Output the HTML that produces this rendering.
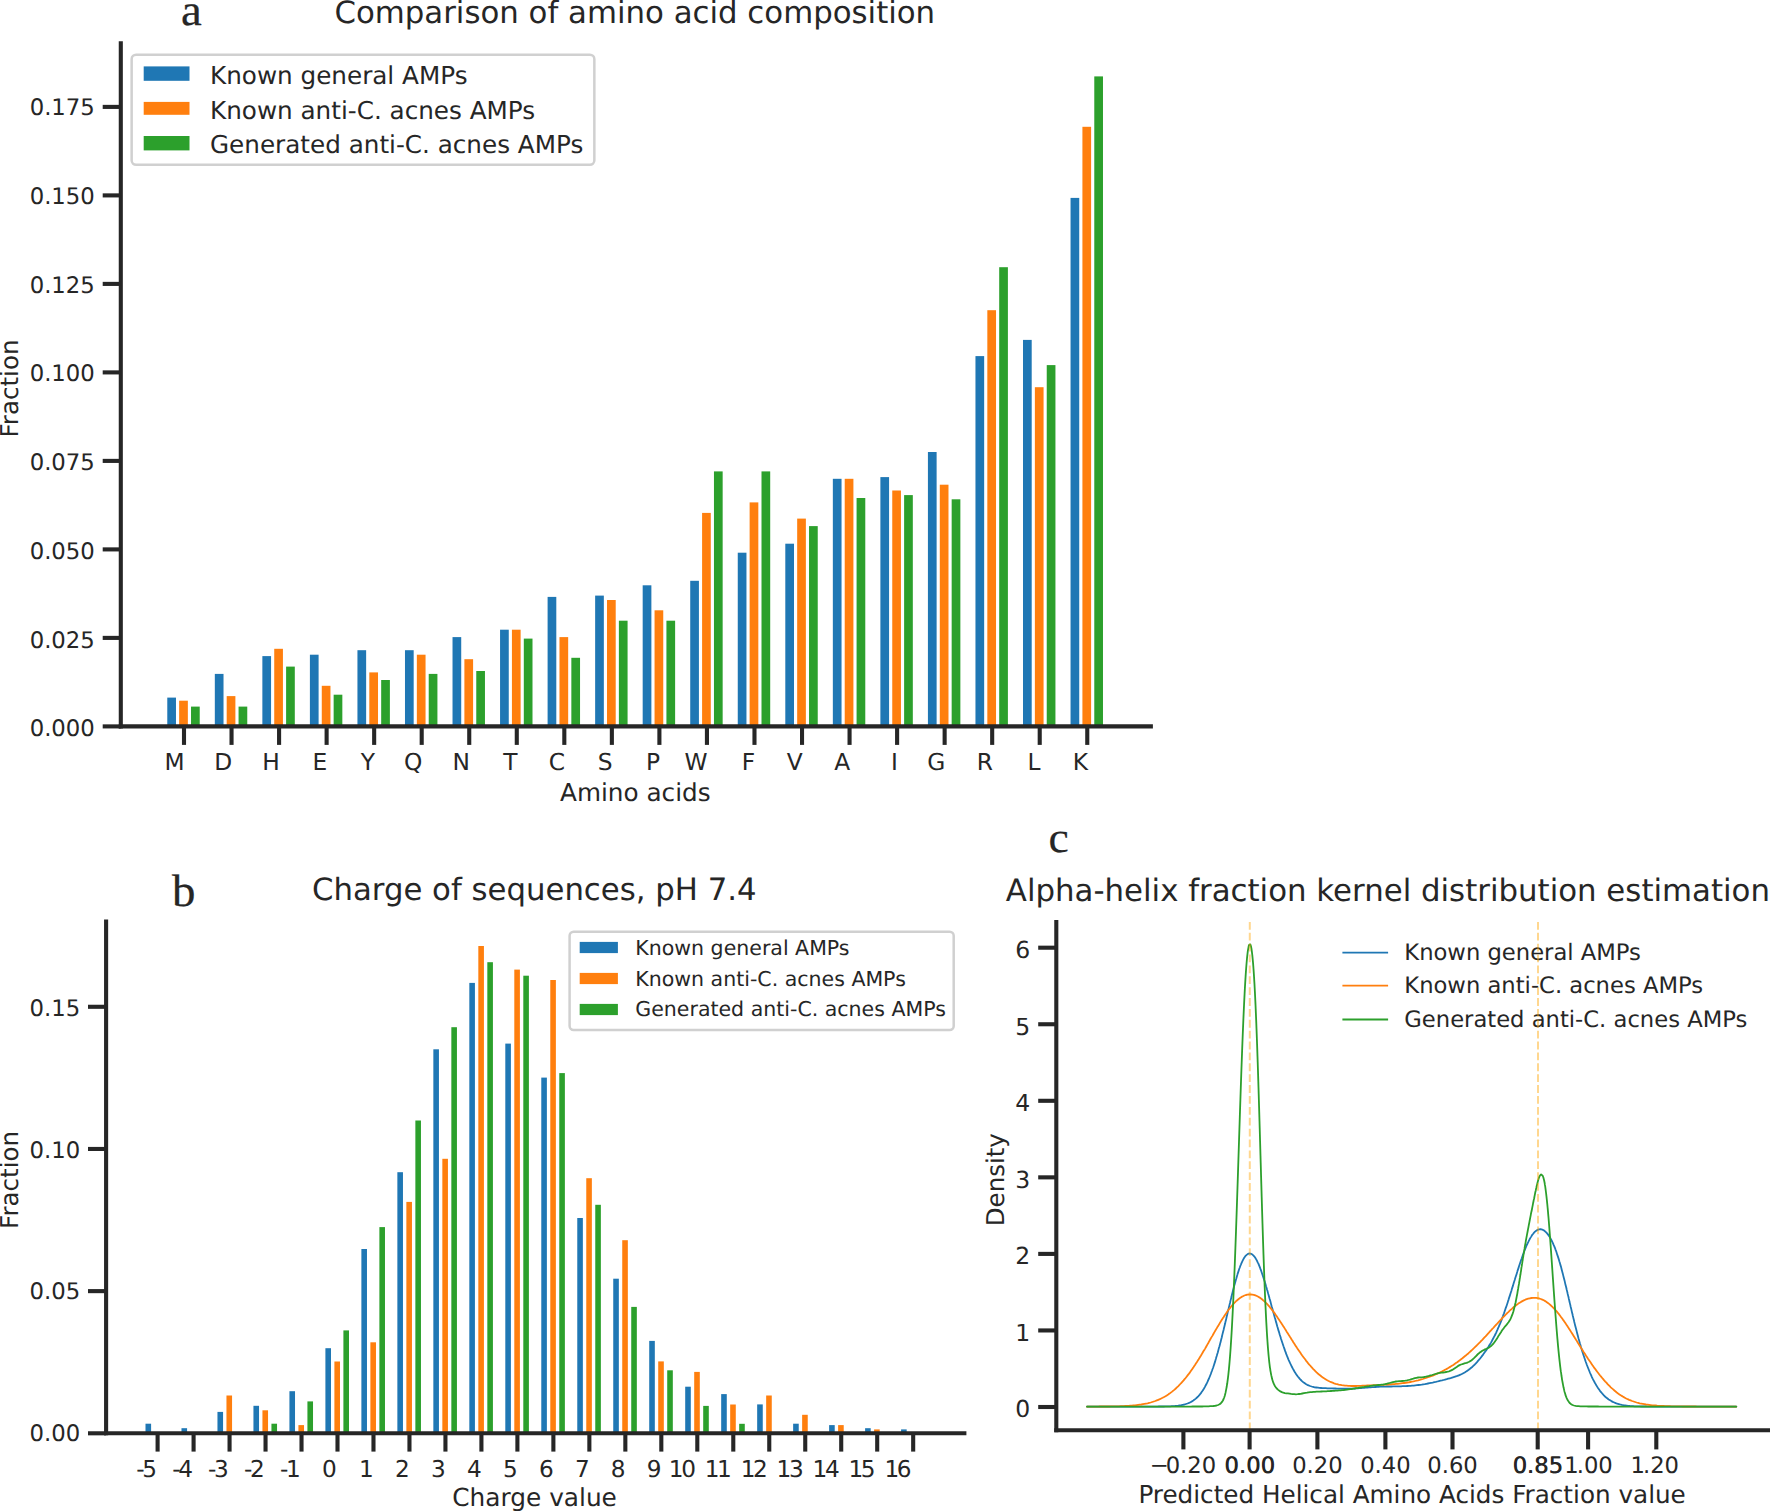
<!DOCTYPE html>
<html lang="en">
<head>
<meta charset="utf-8">
<title>AMP composition, charge and alpha-helix fraction</title>
<style>
html,body{margin:0;padding:0;background:#fff;overflow:hidden;}
svg{display:block;}
text{fill:#262626;}
</style>
</head>
<body>
<svg width="1770" height="1511" viewBox="0 0 1770 1511" font-family="'DejaVu Sans','Liberation Sans',sans-serif" text-rendering="geometricPrecision">
<rect width="1770" height="1511" fill="#fff"/>
<g id="chart-a">
<rect x="167.28" y="697.6" width="8.7" height="28.8" fill="#1f77b4"/>
<rect x="179.15" y="700.7" width="8.7" height="25.7" fill="#ff7f0e"/>
<rect x="191.02" y="706.6" width="8.7" height="19.8" fill="#2ca02c"/>
<rect x="214.82" y="673.9" width="8.7" height="52.5" fill="#1f77b4"/>
<rect x="226.69" y="696.1" width="8.7" height="30.3" fill="#ff7f0e"/>
<rect x="238.56" y="706.6" width="8.7" height="19.8" fill="#2ca02c"/>
<rect x="262.36" y="656.1" width="8.7" height="70.3" fill="#1f77b4"/>
<rect x="274.23" y="648.8" width="8.7" height="77.6" fill="#ff7f0e"/>
<rect x="286.1" y="666.6" width="8.7" height="59.8" fill="#2ca02c"/>
<rect x="309.9" y="654.7" width="8.7" height="71.7" fill="#1f77b4"/>
<rect x="321.77" y="685.8" width="8.7" height="40.6" fill="#ff7f0e"/>
<rect x="333.64" y="694.7" width="8.7" height="31.7" fill="#2ca02c"/>
<rect x="357.44" y="650.2" width="8.7" height="76.2" fill="#1f77b4"/>
<rect x="369.31" y="672.4" width="8.7" height="54" fill="#ff7f0e"/>
<rect x="381.18" y="680" width="8.7" height="46.4" fill="#2ca02c"/>
<rect x="404.98" y="650.2" width="8.7" height="76.2" fill="#1f77b4"/>
<rect x="416.85" y="654.7" width="8.7" height="71.7" fill="#ff7f0e"/>
<rect x="428.72" y="673.9" width="8.7" height="52.5" fill="#2ca02c"/>
<rect x="452.52" y="637.1" width="8.7" height="89.3" fill="#1f77b4"/>
<rect x="464.39" y="659.2" width="8.7" height="67.2" fill="#ff7f0e"/>
<rect x="476.26" y="671" width="8.7" height="55.4" fill="#2ca02c"/>
<rect x="500.06" y="629.7" width="8.7" height="96.7" fill="#1f77b4"/>
<rect x="511.93" y="629.7" width="8.7" height="96.7" fill="#ff7f0e"/>
<rect x="523.8" y="638.6" width="8.7" height="87.8" fill="#2ca02c"/>
<rect x="547.6" y="596.9" width="8.7" height="129.5" fill="#1f77b4"/>
<rect x="559.47" y="637.1" width="8.7" height="89.3" fill="#ff7f0e"/>
<rect x="571.34" y="657.8" width="8.7" height="68.6" fill="#2ca02c"/>
<rect x="595.14" y="595.6" width="8.7" height="130.8" fill="#1f77b4"/>
<rect x="607.01" y="600" width="8.7" height="126.4" fill="#ff7f0e"/>
<rect x="618.88" y="620.7" width="8.7" height="105.7" fill="#2ca02c"/>
<rect x="642.68" y="585.3" width="8.7" height="141.1" fill="#1f77b4"/>
<rect x="654.55" y="610.3" width="8.7" height="116.1" fill="#ff7f0e"/>
<rect x="666.42" y="620.7" width="8.7" height="105.7" fill="#2ca02c"/>
<rect x="690.22" y="580.8" width="8.7" height="145.6" fill="#1f77b4"/>
<rect x="702.09" y="512.9" width="8.7" height="213.5" fill="#ff7f0e"/>
<rect x="713.96" y="471.4" width="8.7" height="255" fill="#2ca02c"/>
<rect x="737.76" y="552.7" width="8.7" height="173.7" fill="#1f77b4"/>
<rect x="749.63" y="502.4" width="8.7" height="224" fill="#ff7f0e"/>
<rect x="761.5" y="471.4" width="8.7" height="255" fill="#2ca02c"/>
<rect x="785.3" y="543.7" width="8.7" height="182.7" fill="#1f77b4"/>
<rect x="797.17" y="518.6" width="8.7" height="207.8" fill="#ff7f0e"/>
<rect x="809.04" y="526.1" width="8.7" height="200.3" fill="#2ca02c"/>
<rect x="832.84" y="478.8" width="8.7" height="247.6" fill="#1f77b4"/>
<rect x="844.71" y="478.8" width="8.7" height="247.6" fill="#ff7f0e"/>
<rect x="856.58" y="498" width="8.7" height="228.4" fill="#2ca02c"/>
<rect x="880.38" y="477.1" width="8.7" height="249.3" fill="#1f77b4"/>
<rect x="892.25" y="490.5" width="8.7" height="235.9" fill="#ff7f0e"/>
<rect x="904.12" y="495.1" width="8.7" height="231.3" fill="#2ca02c"/>
<rect x="927.92" y="452" width="8.7" height="274.4" fill="#1f77b4"/>
<rect x="939.79" y="484.7" width="8.7" height="241.7" fill="#ff7f0e"/>
<rect x="951.66" y="499.3" width="8.7" height="227.1" fill="#2ca02c"/>
<rect x="975.46" y="356.1" width="8.7" height="370.3" fill="#1f77b4"/>
<rect x="987.33" y="310.2" width="8.7" height="416.2" fill="#ff7f0e"/>
<rect x="999.2" y="267.2" width="8.7" height="459.2" fill="#2ca02c"/>
<rect x="1023" y="339.9" width="8.7" height="386.5" fill="#1f77b4"/>
<rect x="1034.87" y="387.2" width="8.7" height="339.2" fill="#ff7f0e"/>
<rect x="1046.74" y="365.1" width="8.7" height="361.3" fill="#2ca02c"/>
<rect x="1070.54" y="197.9" width="8.7" height="528.5" fill="#1f77b4"/>
<rect x="1082.41" y="126.8" width="8.7" height="599.6" fill="#ff7f0e"/>
<rect x="1094.28" y="76.4" width="8.7" height="650" fill="#2ca02c"/>
<line x1="120.8" y1="41.2" x2="120.8" y2="728.45" stroke="#262626" stroke-width="4.1" />
<line x1="118.75" y1="726.4" x2="1152.9" y2="726.4" stroke="#262626" stroke-width="4.1" />
<line x1="102.7" y1="726.4" x2="120.8" y2="726.4" stroke="#262626" stroke-width="4.1" />
<text x="94.8" y="736.2" font-size="22.75" text-anchor="end" >0.000</text>
<line x1="102.7" y1="637.9" x2="120.8" y2="637.9" stroke="#262626" stroke-width="4.1" />
<text x="94.8" y="647.51" font-size="22.75" text-anchor="end" >0.025</text>
<line x1="102.7" y1="549.4" x2="120.8" y2="549.4" stroke="#262626" stroke-width="4.1" />
<text x="94.8" y="558.82" font-size="22.75" text-anchor="end" >0.050</text>
<line x1="102.7" y1="460.9" x2="120.8" y2="460.9" stroke="#262626" stroke-width="4.1" />
<text x="94.8" y="470.13" font-size="22.75" text-anchor="end" >0.075</text>
<line x1="102.7" y1="372.4" x2="120.8" y2="372.4" stroke="#262626" stroke-width="4.1" />
<text x="94.8" y="381.44" font-size="22.75" text-anchor="end" >0.100</text>
<line x1="102.7" y1="283.9" x2="120.8" y2="283.9" stroke="#262626" stroke-width="4.1" />
<text x="94.8" y="292.75" font-size="22.75" text-anchor="end" >0.125</text>
<line x1="102.7" y1="195.4" x2="120.8" y2="195.4" stroke="#262626" stroke-width="4.1" />
<text x="94.8" y="204.06" font-size="22.75" text-anchor="end" >0.150</text>
<line x1="102.7" y1="106.9" x2="120.8" y2="106.9" stroke="#262626" stroke-width="4.1" />
<text x="94.8" y="115.37" font-size="22.75" text-anchor="end" >0.175</text>
<line x1="184" y1="726.4" x2="184" y2="744.9" stroke="#262626" stroke-width="4.1" />
<text x="184.7" y="769.6" font-size="23.3" text-anchor="end" >M</text>
<line x1="231.54" y1="726.4" x2="231.54" y2="744.9" stroke="#262626" stroke-width="4.1" />
<text x="232.24" y="769.6" font-size="23.3" text-anchor="end" >D</text>
<line x1="279.08" y1="726.4" x2="279.08" y2="744.9" stroke="#262626" stroke-width="4.1" />
<text x="279.78" y="769.6" font-size="23.3" text-anchor="end" >H</text>
<line x1="326.62" y1="726.4" x2="326.62" y2="744.9" stroke="#262626" stroke-width="4.1" />
<text x="327.32" y="769.6" font-size="23.3" text-anchor="end" >E</text>
<line x1="374.16" y1="726.4" x2="374.16" y2="744.9" stroke="#262626" stroke-width="4.1" />
<text x="374.86" y="769.6" font-size="23.3" text-anchor="end" >Y</text>
<line x1="421.7" y1="726.4" x2="421.7" y2="744.9" stroke="#262626" stroke-width="4.1" />
<text x="422.4" y="769.6" font-size="23.3" text-anchor="end" >Q</text>
<line x1="469.24" y1="726.4" x2="469.24" y2="744.9" stroke="#262626" stroke-width="4.1" />
<text x="469.94" y="769.6" font-size="23.3" text-anchor="end" >N</text>
<line x1="516.78" y1="726.4" x2="516.78" y2="744.9" stroke="#262626" stroke-width="4.1" />
<text x="517.48" y="769.6" font-size="23.3" text-anchor="end" >T</text>
<line x1="564.32" y1="726.4" x2="564.32" y2="744.9" stroke="#262626" stroke-width="4.1" />
<text x="565.02" y="769.6" font-size="23.3" text-anchor="end" >C</text>
<line x1="611.86" y1="726.4" x2="611.86" y2="744.9" stroke="#262626" stroke-width="4.1" />
<text x="612.56" y="769.6" font-size="23.3" text-anchor="end" >S</text>
<line x1="659.4" y1="726.4" x2="659.4" y2="744.9" stroke="#262626" stroke-width="4.1" />
<text x="660.1" y="769.6" font-size="23.3" text-anchor="end" >P</text>
<line x1="706.94" y1="726.4" x2="706.94" y2="744.9" stroke="#262626" stroke-width="4.1" />
<text x="707.64" y="769.6" font-size="23.3" text-anchor="end" >W</text>
<line x1="754.48" y1="726.4" x2="754.48" y2="744.9" stroke="#262626" stroke-width="4.1" />
<text x="755.18" y="769.6" font-size="23.3" text-anchor="end" >F</text>
<line x1="802.02" y1="726.4" x2="802.02" y2="744.9" stroke="#262626" stroke-width="4.1" />
<text x="802.72" y="769.6" font-size="23.3" text-anchor="end" >V</text>
<line x1="849.56" y1="726.4" x2="849.56" y2="744.9" stroke="#262626" stroke-width="4.1" />
<text x="850.26" y="769.6" font-size="23.3" text-anchor="end" >A</text>
<line x1="897.1" y1="726.4" x2="897.1" y2="744.9" stroke="#262626" stroke-width="4.1" />
<text x="897.8" y="769.6" font-size="23.3" text-anchor="end" >I</text>
<line x1="944.64" y1="726.4" x2="944.64" y2="744.9" stroke="#262626" stroke-width="4.1" />
<text x="945.34" y="769.6" font-size="23.3" text-anchor="end" >G</text>
<line x1="992.18" y1="726.4" x2="992.18" y2="744.9" stroke="#262626" stroke-width="4.1" />
<text x="992.88" y="769.6" font-size="23.3" text-anchor="end" >R</text>
<line x1="1039.72" y1="726.4" x2="1039.72" y2="744.9" stroke="#262626" stroke-width="4.1" />
<text x="1040.42" y="769.6" font-size="23.3" text-anchor="end" >L</text>
<line x1="1087.26" y1="726.4" x2="1087.26" y2="744.9" stroke="#262626" stroke-width="4.1" />
<text x="1087.96" y="769.6" font-size="23.3" text-anchor="end" >K</text>
<text x="635.3" y="801" font-size="24.7" text-anchor="middle" >Amino acids</text>
<text x="18.1" y="388.5" font-size="24.6" text-anchor="middle" transform="rotate(-90 18.1 388.5)" >Fraction</text>
<text x="634.8" y="22.9" font-size="30.8" text-anchor="middle" >Comparison of amino acid composition</text>
<text transform="translate(180.9 25) scale(1.06 1)" font-size="44.2" font-family="'Liberation Serif','DejaVu Serif',serif" stroke="#262626" stroke-width="0.25">a</text>
<rect x="131.65" y="54.65" width="462.7" height="110.2" rx="4.5" fill="#fff" fill-opacity="0.8" stroke="#d0d0d0" stroke-width="2.5"/>
<rect x="143.7" y="66.4" width="45.8" height="14.4" fill="#1f77b4"/>
<text x="210" y="83.9" font-size="24.66" >Known general AMPs</text>
<rect x="143.7" y="101.9" width="45.8" height="12.9" fill="#ff7f0e"/>
<text x="210" y="118.7" font-size="24.66" >Known anti-C. acnes AMPs</text>
<rect x="143.7" y="136" width="45.8" height="14.4" fill="#2ca02c"/>
<text x="210" y="153.4" font-size="24.66" >Generated anti-C. acnes AMPs</text>
</g>
<g id="chart-b">
<rect x="145.5" y="1423.7" width="5.6" height="9.6" fill="#1f77b4"/>
<rect x="181.48" y="1428.2" width="5.6" height="5.1" fill="#1f77b4"/>
<rect x="217.46" y="1411.9" width="5.6" height="21.4" fill="#1f77b4"/>
<rect x="226.46" y="1395.5" width="5.6" height="37.8" fill="#ff7f0e"/>
<rect x="253.44" y="1405.8" width="5.6" height="27.5" fill="#1f77b4"/>
<rect x="262.44" y="1410.3" width="5.6" height="23" fill="#ff7f0e"/>
<rect x="271.44" y="1423.7" width="5.6" height="9.6" fill="#2ca02c"/>
<rect x="289.42" y="1391.2" width="5.6" height="42.1" fill="#1f77b4"/>
<rect x="298.42" y="1425.1" width="5.6" height="8.2" fill="#ff7f0e"/>
<rect x="307.42" y="1401.4" width="5.6" height="31.9" fill="#2ca02c"/>
<rect x="325.4" y="1348.2" width="5.6" height="85.1" fill="#1f77b4"/>
<rect x="334.4" y="1361.5" width="5.6" height="71.8" fill="#ff7f0e"/>
<rect x="343.4" y="1330.4" width="5.6" height="102.9" fill="#2ca02c"/>
<rect x="361.38" y="1249" width="5.6" height="184.3" fill="#1f77b4"/>
<rect x="370.38" y="1342.3" width="5.6" height="91" fill="#ff7f0e"/>
<rect x="379.38" y="1227.1" width="5.6" height="206.2" fill="#2ca02c"/>
<rect x="397.36" y="1172.2" width="5.6" height="261.1" fill="#1f77b4"/>
<rect x="406.36" y="1201.9" width="5.6" height="231.4" fill="#ff7f0e"/>
<rect x="415.36" y="1120.5" width="5.6" height="312.8" fill="#2ca02c"/>
<rect x="433.34" y="1049.3" width="5.6" height="384" fill="#1f77b4"/>
<rect x="442.34" y="1158.8" width="5.6" height="274.5" fill="#ff7f0e"/>
<rect x="451.34" y="1027.2" width="5.6" height="406.1" fill="#2ca02c"/>
<rect x="469.32" y="982.9" width="5.6" height="450.4" fill="#1f77b4"/>
<rect x="478.32" y="946" width="5.6" height="487.3" fill="#ff7f0e"/>
<rect x="487.32" y="962.2" width="5.6" height="471.1" fill="#2ca02c"/>
<rect x="505.3" y="1043.6" width="5.6" height="389.7" fill="#1f77b4"/>
<rect x="514.3" y="969.6" width="5.6" height="463.7" fill="#ff7f0e"/>
<rect x="523.3" y="975.7" width="5.6" height="457.6" fill="#2ca02c"/>
<rect x="541.28" y="1077.6" width="5.6" height="355.7" fill="#1f77b4"/>
<rect x="550.28" y="980" width="5.6" height="453.3" fill="#ff7f0e"/>
<rect x="559.28" y="1073.1" width="5.6" height="360.2" fill="#2ca02c"/>
<rect x="577.26" y="1218" width="5.6" height="215.3" fill="#1f77b4"/>
<rect x="586.26" y="1178.2" width="5.6" height="255.1" fill="#ff7f0e"/>
<rect x="595.26" y="1204.8" width="5.6" height="228.5" fill="#2ca02c"/>
<rect x="613.24" y="1278.7" width="5.6" height="154.6" fill="#1f77b4"/>
<rect x="622.24" y="1240.2" width="5.6" height="193.1" fill="#ff7f0e"/>
<rect x="631.24" y="1306.9" width="5.6" height="126.4" fill="#2ca02c"/>
<rect x="649.22" y="1340.9" width="5.6" height="92.4" fill="#1f77b4"/>
<rect x="658.22" y="1361.4" width="5.6" height="71.9" fill="#ff7f0e"/>
<rect x="667.22" y="1370.3" width="5.6" height="63" fill="#2ca02c"/>
<rect x="685.2" y="1386.7" width="5.6" height="46.6" fill="#1f77b4"/>
<rect x="694.2" y="1371.9" width="5.6" height="61.4" fill="#ff7f0e"/>
<rect x="703.2" y="1405.9" width="5.6" height="27.4" fill="#2ca02c"/>
<rect x="721.18" y="1394.1" width="5.6" height="39.2" fill="#1f77b4"/>
<rect x="730.18" y="1404.5" width="5.6" height="28.8" fill="#ff7f0e"/>
<rect x="739.18" y="1423.8" width="5.6" height="9.5" fill="#2ca02c"/>
<rect x="757.16" y="1404.4" width="5.6" height="28.9" fill="#1f77b4"/>
<rect x="766.16" y="1395.5" width="5.6" height="37.8" fill="#ff7f0e"/>
<rect x="793.14" y="1423.7" width="5.6" height="9.6" fill="#1f77b4"/>
<rect x="802.14" y="1414.8" width="5.6" height="18.5" fill="#ff7f0e"/>
<rect x="829.12" y="1425.1" width="5.6" height="8.2" fill="#1f77b4"/>
<rect x="838.12" y="1425.1" width="5.6" height="8.2" fill="#ff7f0e"/>
<rect x="865.1" y="1428.2" width="5.6" height="5.1" fill="#1f77b4"/>
<rect x="874.1" y="1429.4" width="5.6" height="3.9" fill="#ff7f0e"/>
<rect x="901.08" y="1429.4" width="5.6" height="3.9" fill="#1f77b4"/>
<line x1="106.1" y1="919.4" x2="106.1" y2="1435.35" stroke="#262626" stroke-width="4.1" />
<line x1="104.05" y1="1433.3" x2="966.4" y2="1433.3" stroke="#262626" stroke-width="4.1" />
<line x1="88" y1="1433.3" x2="106.1" y2="1433.3" stroke="#262626" stroke-width="4.1" />
<text x="80.2" y="1441.2" font-size="22.75" text-anchor="end" >0.00</text>
<line x1="88" y1="1291.13" x2="106.1" y2="1291.13" stroke="#262626" stroke-width="4.1" />
<text x="80.2" y="1298.63" font-size="22.75" text-anchor="end" >0.05</text>
<line x1="88" y1="1148.96" x2="106.1" y2="1148.96" stroke="#262626" stroke-width="4.1" />
<text x="80.2" y="1158.16" font-size="22.75" text-anchor="end" >0.10</text>
<line x1="88" y1="1006.79" x2="106.1" y2="1006.79" stroke="#262626" stroke-width="4.1" />
<text x="80.2" y="1016.29" font-size="22.75" text-anchor="end" >0.15</text>
<line x1="157.6" y1="1433.3" x2="157.6" y2="1451.6" stroke="#262626" stroke-width="4.1" />
<text x="157" y="1476.6" font-size="23.2" text-anchor="end" >-<tspan dx="-2.4">5</tspan></text>
<line x1="193.58" y1="1433.3" x2="193.58" y2="1451.6" stroke="#262626" stroke-width="4.1" />
<text x="192.93" y="1476.6" font-size="23.2" text-anchor="end" >-<tspan dx="-2.4">4</tspan></text>
<line x1="229.56" y1="1433.3" x2="229.56" y2="1451.6" stroke="#262626" stroke-width="4.1" />
<text x="228.86" y="1476.6" font-size="23.2" text-anchor="end" >-<tspan dx="-2.4">3</tspan></text>
<line x1="265.54" y1="1433.3" x2="265.54" y2="1451.6" stroke="#262626" stroke-width="4.1" />
<text x="264.79" y="1476.6" font-size="23.2" text-anchor="end" >-<tspan dx="-2.4">2</tspan></text>
<line x1="301.52" y1="1433.3" x2="301.52" y2="1451.6" stroke="#262626" stroke-width="4.1" />
<text x="300.72" y="1476.6" font-size="23.2" text-anchor="end" >-<tspan dx="-2.4">1</tspan></text>
<line x1="337.5" y1="1433.3" x2="337.5" y2="1451.6" stroke="#262626" stroke-width="4.1" />
<text x="336.65" y="1476.6" font-size="23.2" text-anchor="end" >0</text>
<line x1="373.48" y1="1433.3" x2="373.48" y2="1451.6" stroke="#262626" stroke-width="4.1" />
<text x="373.78" y="1476.6" font-size="23.2" text-anchor="end" >1</text>
<line x1="409.46" y1="1433.3" x2="409.46" y2="1451.6" stroke="#262626" stroke-width="4.1" />
<text x="409.76" y="1476.6" font-size="23.2" text-anchor="end" >2</text>
<line x1="445.44" y1="1433.3" x2="445.44" y2="1451.6" stroke="#262626" stroke-width="4.1" />
<text x="445.74" y="1476.6" font-size="23.2" text-anchor="end" >3</text>
<line x1="481.42" y1="1433.3" x2="481.42" y2="1451.6" stroke="#262626" stroke-width="4.1" />
<text x="481.72" y="1476.6" font-size="23.2" text-anchor="end" >4</text>
<line x1="517.4" y1="1433.3" x2="517.4" y2="1451.6" stroke="#262626" stroke-width="4.1" />
<text x="517.7" y="1476.6" font-size="23.2" text-anchor="end" >5</text>
<line x1="553.38" y1="1433.3" x2="553.38" y2="1451.6" stroke="#262626" stroke-width="4.1" />
<text x="553.68" y="1476.6" font-size="23.2" text-anchor="end" >6</text>
<line x1="589.36" y1="1433.3" x2="589.36" y2="1451.6" stroke="#262626" stroke-width="4.1" />
<text x="589.66" y="1476.6" font-size="23.2" text-anchor="end" >7</text>
<line x1="625.34" y1="1433.3" x2="625.34" y2="1451.6" stroke="#262626" stroke-width="4.1" />
<text x="625.64" y="1476.6" font-size="23.2" text-anchor="end" >8</text>
<line x1="661.32" y1="1433.3" x2="661.32" y2="1451.6" stroke="#262626" stroke-width="4.1" />
<text x="661.62" y="1476.6" font-size="23.2" text-anchor="end" >9</text>
<line x1="697.3" y1="1433.3" x2="697.3" y2="1451.6" stroke="#262626" stroke-width="4.1" />
<text x="695.95" y="1476.6" font-size="23.2" text-anchor="end" >1<tspan dx="-2.4">0</tspan></text>
<line x1="733.28" y1="1433.3" x2="733.28" y2="1451.6" stroke="#262626" stroke-width="4.1" />
<text x="731.88" y="1476.6" font-size="23.2" text-anchor="end" >1<tspan dx="-2.4">1</tspan></text>
<line x1="769.26" y1="1433.3" x2="769.26" y2="1451.6" stroke="#262626" stroke-width="4.1" />
<text x="767.81" y="1476.6" font-size="23.2" text-anchor="end" >1<tspan dx="-2.4">2</tspan></text>
<line x1="805.24" y1="1433.3" x2="805.24" y2="1451.6" stroke="#262626" stroke-width="4.1" />
<text x="803.74" y="1476.6" font-size="23.2" text-anchor="end" >1<tspan dx="-2.4">3</tspan></text>
<line x1="841.22" y1="1433.3" x2="841.22" y2="1451.6" stroke="#262626" stroke-width="4.1" />
<text x="839.67" y="1476.6" font-size="23.2" text-anchor="end" >1<tspan dx="-2.4">4</tspan></text>
<line x1="877.2" y1="1433.3" x2="877.2" y2="1451.6" stroke="#262626" stroke-width="4.1" />
<text x="875.6" y="1476.6" font-size="23.2" text-anchor="end" >1<tspan dx="-2.4">5</tspan></text>
<line x1="913.18" y1="1433.3" x2="913.18" y2="1451.6" stroke="#262626" stroke-width="4.1" />
<text x="911.53" y="1476.6" font-size="23.2" text-anchor="end" >1<tspan dx="-2.4">6</tspan></text>
<text x="534.6" y="1505.6" font-size="24.8" text-anchor="middle" >Charge value</text>
<text x="18" y="1179.9" font-size="24.6" text-anchor="middle" transform="rotate(-90 18 1179.9)" >Fraction</text>
<text x="534.3" y="899.7" font-size="30.76" text-anchor="middle" >Charge of sequences, pH 7.4</text>
<text transform="translate(171.9 906) scale(1.03 1)" font-size="45.5" font-family="'Liberation Serif','DejaVu Serif',serif" stroke="#262626" stroke-width="0.25">b</text>
<rect x="569.6" y="931.7" width="384.1" height="98.3" rx="4" fill="#fff" fill-opacity="0.8" stroke="#d0d0d0" stroke-width="2.5"/>
<rect x="579.7" y="941.9" width="38.2" height="11.2" fill="#1f77b4"/>
<text x="635.3" y="954.7" font-size="20.53" >Known general AMPs</text>
<rect x="579.7" y="972.9" width="38.2" height="11.2" fill="#ff7f0e"/>
<text x="635.3" y="985.6" font-size="20.53" >Known anti-C. acnes AMPs</text>
<rect x="579.7" y="1003.9" width="38.2" height="11.2" fill="#2ca02c"/>
<text x="635.3" y="1016.1" font-size="20.53" >Generated anti-C. acnes AMPs</text>
</g>
<g id="chart-c">
<path d="M1087.0 1406.6L1088.6 1406.6L1090.2 1406.6L1091.8 1406.6L1093.4 1406.6L1095.0 1406.6L1096.6 1406.6L1098.2 1406.6L1099.8 1406.6L1101.4 1406.6L1103.0 1406.6L1104.6 1406.6L1106.2 1406.6L1107.8 1406.6L1109.4 1406.6L1111.0 1406.6L1112.6 1406.6L1114.2 1406.6L1115.8 1406.6L1117.4 1406.6L1119.0 1406.6L1120.6 1406.6L1122.2 1406.6L1123.8 1406.6L1125.4 1406.6L1127.0 1406.6L1128.6 1406.6L1130.2 1406.6L1131.8 1406.6L1133.4 1406.6L1135.0 1406.6L1136.6 1406.6L1138.2 1406.6L1139.8 1406.6L1141.4 1406.6L1143.0 1406.6L1144.6 1406.6L1146.2 1406.6L1147.8 1406.6L1149.4 1406.6L1151.0 1406.6L1152.6 1406.6L1154.2 1406.6L1155.8 1406.6L1157.4 1406.6L1159.0 1406.5L1160.6 1406.5L1162.2 1406.5L1163.8 1406.5L1165.4 1406.4L1167.0 1406.4L1168.6 1406.4L1170.2 1406.3L1171.8 1406.2L1173.4 1406.1L1175.0 1406.0L1176.6 1405.8L1178.2 1405.7L1179.8 1405.4L1181.3 1405.2L1182.9 1404.8L1184.5 1404.5L1186.0 1404.0L1187.5 1403.5L1189.0 1402.9L1190.5 1402.2L1191.9 1401.4L1193.3 1400.5L1194.6 1399.6L1195.8 1398.6L1197.0 1397.5L1198.2 1396.3L1199.3 1395.1L1200.3 1393.9L1201.3 1392.6L1202.2 1391.3L1203.1 1389.9L1204.0 1388.5L1204.8 1387.1L1205.5 1385.7L1206.3 1384.3L1207.0 1382.9L1207.7 1381.4L1208.3 1379.9L1209.0 1378.5L1209.6 1377.0L1210.2 1375.5L1210.8 1374.0L1211.3 1372.5L1211.9 1371.0L1212.4 1369.5L1213.0 1368.0L1213.5 1366.5L1214.0 1364.9L1214.5 1363.4L1215.0 1361.9L1215.4 1360.4L1215.9 1358.8L1216.3 1357.3L1216.8 1355.8L1217.2 1354.2L1217.7 1352.7L1218.1 1351.2L1218.5 1349.6L1218.9 1348.1L1219.4 1346.5L1219.8 1345.0L1220.2 1343.4L1220.6 1341.9L1221.0 1340.3L1221.4 1338.8L1221.8 1337.2L1222.1 1335.7L1222.5 1334.1L1222.9 1332.6L1223.3 1331.0L1223.7 1329.5L1224.0 1327.9L1224.4 1326.4L1224.8 1324.8L1225.2 1323.3L1225.5 1321.7L1225.9 1320.2L1226.3 1318.6L1226.6 1317.0L1227.0 1315.5L1227.4 1313.9L1227.7 1312.4L1228.1 1310.8L1228.5 1309.3L1228.8 1307.7L1229.2 1306.1L1229.6 1304.6L1230.0 1303.0L1230.3 1301.5L1230.7 1299.9L1231.1 1298.4L1231.5 1296.8L1231.8 1295.2L1232.2 1293.7L1232.6 1292.1L1233.0 1290.6L1233.4 1289.0L1233.8 1287.5L1234.2 1285.9L1234.6 1284.4L1235.1 1282.8L1235.5 1281.3L1235.9 1279.7L1236.4 1278.2L1236.8 1276.7L1237.3 1275.1L1237.7 1273.6L1238.2 1272.1L1238.7 1270.6L1239.2 1269.0L1239.8 1267.5L1240.3 1266.0L1240.9 1264.6L1241.5 1263.1L1242.2 1261.6L1242.9 1260.2L1243.6 1258.8L1244.4 1257.5L1245.3 1256.2L1246.4 1255.1L1247.6 1254.1L1249.0 1253.5L1250.5 1253.6L1252.1 1254.3L1253.3 1255.4L1254.4 1256.6L1255.4 1258.0L1256.2 1259.4L1257.0 1260.8L1257.7 1262.3L1258.4 1263.7L1259.0 1265.2L1259.6 1266.7L1260.2 1268.2L1260.7 1269.7L1261.3 1271.2L1261.8 1272.7L1262.3 1274.2L1262.8 1275.7L1263.3 1277.2L1263.8 1278.8L1264.3 1280.3L1264.8 1281.8L1265.2 1283.4L1265.7 1284.9L1266.1 1286.4L1266.6 1288.0L1267.0 1289.5L1267.5 1291.0L1267.9 1292.6L1268.3 1294.1L1268.8 1295.7L1269.2 1297.2L1269.6 1298.7L1270.1 1300.3L1270.5 1301.8L1270.9 1303.4L1271.3 1304.9L1271.7 1306.4L1272.2 1308.0L1272.6 1309.5L1273.0 1311.1L1273.4 1312.6L1273.9 1314.2L1274.3 1315.7L1274.7 1317.2L1275.2 1318.8L1275.6 1320.3L1276.0 1321.9L1276.5 1323.4L1276.9 1324.9L1277.3 1326.5L1277.8 1328.0L1278.2 1329.6L1278.7 1331.1L1279.2 1332.6L1279.6 1334.2L1280.1 1335.7L1280.6 1337.2L1281.0 1338.7L1281.5 1340.3L1282.0 1341.8L1282.5 1343.3L1283.0 1344.8L1283.5 1346.3L1284.1 1347.9L1284.6 1349.4L1285.1 1350.9L1285.7 1352.4L1286.2 1353.9L1286.8 1355.4L1287.4 1356.8L1288.0 1358.3L1288.6 1359.8L1289.3 1361.3L1289.9 1362.7L1290.6 1364.2L1291.3 1365.6L1292.0 1367.0L1292.7 1368.4L1293.5 1369.8L1294.3 1371.2L1295.1 1372.6L1296.0 1373.9L1296.9 1375.2L1297.8 1376.5L1298.8 1377.7L1299.8 1378.9L1300.9 1380.0L1302.0 1381.1L1303.2 1382.2L1304.5 1383.1L1305.8 1384.0L1307.2 1384.8L1308.6 1385.4L1310.1 1386.0L1311.6 1386.5L1313.1 1386.9L1314.7 1387.3L1316.3 1387.5L1317.9 1387.7L1319.4 1387.9L1321.0 1388.0L1322.6 1388.1L1324.2 1388.1L1325.8 1388.2L1327.4 1388.3L1329.0 1388.3L1330.6 1388.4L1332.2 1388.4L1333.8 1388.5L1335.4 1388.5L1337.0 1388.6L1338.6 1388.6L1340.2 1388.7L1341.8 1388.7L1343.4 1388.7L1345.0 1388.7L1346.6 1388.7L1348.2 1388.7L1349.8 1388.7L1351.4 1388.6L1353.0 1388.6L1354.6 1388.5L1356.2 1388.4L1357.8 1388.3L1359.4 1388.2L1361.0 1388.0L1362.6 1387.9L1364.2 1387.8L1365.8 1387.7L1367.4 1387.5L1369.0 1387.4L1370.6 1387.3L1372.2 1387.2L1373.8 1387.1L1375.4 1387.0L1377.0 1386.9L1378.6 1386.8L1380.2 1386.7L1381.8 1386.7L1383.4 1386.6L1385.0 1386.6L1386.6 1386.5L1388.2 1386.5L1389.8 1386.5L1391.4 1386.5L1393.0 1386.4L1394.6 1386.4L1396.2 1386.4L1397.8 1386.4L1399.4 1386.3L1401.0 1386.3L1402.6 1386.2L1404.2 1386.2L1405.8 1386.1L1407.4 1386.0L1409.0 1385.9L1410.5 1385.8L1412.1 1385.7L1413.7 1385.6L1415.3 1385.4L1416.9 1385.2L1418.5 1385.0L1420.1 1384.8L1421.7 1384.6L1423.3 1384.3L1424.8 1384.1L1426.4 1383.8L1428.0 1383.5L1429.6 1383.2L1431.1 1382.9L1432.7 1382.6L1434.3 1382.2L1435.8 1381.9L1437.4 1381.5L1438.9 1381.1L1440.5 1380.7L1442.0 1380.4L1443.6 1380.0L1445.1 1379.6L1446.7 1379.2L1448.2 1378.7L1449.8 1378.3L1451.3 1377.9L1452.9 1377.4L1454.4 1376.9L1455.9 1376.4L1457.4 1375.9L1458.9 1375.3L1460.4 1374.7L1461.8 1374.0L1463.3 1373.2L1464.7 1372.5L1466.1 1371.6L1467.4 1370.7L1468.7 1369.8L1470.0 1368.8L1471.2 1367.8L1472.5 1366.7L1473.6 1365.6L1474.8 1364.5L1475.9 1363.3L1477.0 1362.1L1478.0 1360.9L1479.1 1359.7L1480.1 1358.5L1481.1 1357.2L1482.1 1355.9L1483.1 1354.6L1484.0 1353.3L1484.9 1352.0L1485.9 1350.7L1486.8 1349.4L1487.6 1348.0L1488.5 1346.7L1489.3 1345.3L1490.2 1343.9L1491.0 1342.6L1491.8 1341.2L1492.5 1339.7L1493.3 1338.3L1494.0 1336.9L1494.8 1335.5L1495.5 1334.0L1496.2 1332.6L1496.8 1331.1L1497.5 1329.7L1498.1 1328.2L1498.8 1326.7L1499.4 1325.2L1500.0 1323.8L1500.6 1322.3L1501.2 1320.8L1501.8 1319.3L1502.3 1317.8L1502.9 1316.3L1503.4 1314.8L1504.0 1313.3L1504.5 1311.8L1505.0 1310.3L1505.5 1308.7L1506.1 1307.2L1506.6 1305.7L1507.1 1304.2L1507.6 1302.7L1508.1 1301.1L1508.6 1299.6L1509.0 1298.1L1509.5 1296.6L1510.0 1295.1L1510.5 1293.5L1511.0 1292.0L1511.5 1290.5L1511.9 1288.9L1512.4 1287.4L1512.9 1285.9L1513.3 1284.4L1513.8 1282.8L1514.3 1281.3L1514.8 1279.8L1515.2 1278.2L1515.7 1276.7L1516.2 1275.2L1516.7 1273.7L1517.2 1272.1L1517.6 1270.6L1518.1 1269.1L1518.6 1267.6L1519.1 1266.0L1519.6 1264.5L1520.1 1263.0L1520.6 1261.5L1521.1 1260.0L1521.7 1258.5L1522.2 1257.0L1522.7 1255.4L1523.3 1253.9L1523.8 1252.4L1524.4 1251.0L1525.0 1249.5L1525.6 1248.0L1526.2 1246.5L1526.8 1245.0L1527.5 1243.6L1528.2 1242.2L1528.9 1240.7L1529.6 1239.3L1530.4 1237.9L1531.2 1236.6L1532.0 1235.2L1533.0 1234.0L1533.9 1232.8L1535.0 1231.6L1536.2 1230.7L1537.6 1229.9L1539.0 1229.4L1540.6 1229.2L1542.2 1229.6L1543.7 1230.3L1545.0 1231.3L1546.2 1232.4L1547.3 1233.6L1548.3 1234.9L1549.2 1236.3L1550.1 1237.6L1550.9 1239.1L1551.6 1240.5L1552.3 1241.9L1553.0 1243.4L1553.6 1244.9L1554.3 1246.3L1554.9 1247.8L1555.4 1249.3L1556.0 1250.8L1556.5 1252.3L1557.0 1253.9L1557.5 1255.4L1558.0 1256.9L1558.5 1258.4L1559.0 1260.0L1559.4 1261.5L1559.9 1263.0L1560.3 1264.6L1560.8 1266.1L1561.2 1267.6L1561.6 1269.2L1562.0 1270.7L1562.4 1272.3L1562.8 1273.8L1563.2 1275.4L1563.6 1276.9L1564.0 1278.5L1564.4 1280.0L1564.8 1281.6L1565.1 1283.1L1565.5 1284.7L1565.9 1286.2L1566.3 1287.8L1566.6 1289.3L1567.0 1290.9L1567.4 1292.4L1567.7 1294.0L1568.1 1295.6L1568.5 1297.1L1568.8 1298.7L1569.2 1300.2L1569.5 1301.8L1569.9 1303.4L1570.3 1304.9L1570.6 1306.5L1571.0 1308.0L1571.4 1309.6L1571.7 1311.1L1572.1 1312.7L1572.5 1314.3L1572.8 1315.8L1573.2 1317.4L1573.6 1318.9L1574.0 1320.5L1574.3 1322.0L1574.7 1323.6L1575.1 1325.2L1575.5 1326.7L1575.9 1328.3L1576.3 1329.8L1576.7 1331.4L1577.1 1332.9L1577.5 1334.5L1577.9 1336.0L1578.3 1337.6L1578.7 1339.1L1579.2 1340.7L1579.6 1342.2L1580.0 1343.7L1580.5 1345.3L1580.9 1346.8L1581.4 1348.3L1581.8 1349.9L1582.3 1351.4L1582.8 1352.9L1583.3 1354.5L1583.8 1356.0L1584.3 1357.5L1584.8 1359.0L1585.3 1360.5L1585.8 1362.0L1586.4 1363.5L1586.9 1365.0L1587.5 1366.5L1588.1 1368.0L1588.7 1369.5L1589.3 1371.0L1589.9 1372.5L1590.5 1373.9L1591.2 1375.4L1591.8 1376.8L1592.5 1378.3L1593.2 1379.7L1594.0 1381.1L1594.7 1382.5L1595.5 1383.9L1596.3 1385.3L1597.1 1386.6L1598.0 1388.0L1598.9 1389.3L1599.8 1390.6L1600.8 1391.8L1601.8 1393.0L1602.8 1394.2L1603.9 1395.4L1605.0 1396.5L1606.2 1397.5L1607.5 1398.5L1608.7 1399.5L1610.1 1400.3L1611.4 1401.1L1612.8 1401.9L1614.3 1402.5L1615.7 1403.1L1617.2 1403.7L1618.8 1404.1L1620.3 1404.5L1621.9 1404.9L1623.4 1405.2L1625.0 1405.4L1626.6 1405.6L1628.2 1405.8L1629.8 1406.0L1631.4 1406.1L1633.0 1406.2L1634.6 1406.3L1636.2 1406.3L1637.8 1406.4L1639.4 1406.4L1641.0 1406.5L1642.6 1406.5L1644.2 1406.5L1645.8 1406.5L1647.4 1406.6L1649.0 1406.6L1650.6 1406.6L1652.2 1406.6L1653.8 1406.6L1655.4 1406.6L1657.0 1406.6L1658.6 1406.6L1660.2 1406.6L1661.8 1406.6L1663.4 1406.6L1665.0 1406.6L1666.6 1406.6L1668.2 1406.6L1669.8 1406.6L1671.4 1406.6L1673.0 1406.6L1674.6 1406.6L1676.2 1406.6L1677.8 1406.6L1679.4 1406.6L1681.0 1406.6L1682.6 1406.6L1684.2 1406.6L1685.8 1406.6L1687.4 1406.6L1689.0 1406.6L1690.6 1406.6L1692.2 1406.6L1693.8 1406.6L1695.4 1406.6L1697.0 1406.6L1698.6 1406.6L1700.2 1406.6L1701.8 1406.6L1703.4 1406.6L1705.0 1406.6L1706.6 1406.6L1708.2 1406.6L1709.8 1406.6L1711.4 1406.6L1713.0 1406.6L1714.6 1406.6L1716.2 1406.6L1717.8 1406.6L1719.4 1406.6L1721.0 1406.6L1722.6 1406.6L1724.2 1406.6L1725.8 1406.6L1727.4 1406.6L1729.0 1406.6L1730.6 1406.6L1732.2 1406.6L1733.8 1406.6L1735.4 1406.6L1736.3 1406.6" fill="none" stroke="#1f77b4" stroke-width="1.8" stroke-linejoin="round" stroke-linecap="round"/>
<path d="M1087.0 1406.6L1088.6 1406.6L1090.2 1406.6L1091.8 1406.6L1093.4 1406.6L1095.0 1406.6L1096.6 1406.6L1098.2 1406.6L1099.8 1406.5L1101.4 1406.5L1103.0 1406.5L1104.6 1406.5L1106.2 1406.5L1107.8 1406.5L1109.4 1406.5L1111.0 1406.4L1112.6 1406.4L1114.2 1406.4L1115.8 1406.3L1117.4 1406.3L1119.0 1406.3L1120.6 1406.2L1122.2 1406.1L1123.8 1406.1L1125.4 1406.0L1127.0 1405.9L1128.6 1405.8L1130.2 1405.7L1131.8 1405.6L1133.4 1405.4L1135.0 1405.3L1136.6 1405.1L1138.1 1404.9L1139.7 1404.7L1141.3 1404.5L1142.9 1404.2L1144.5 1403.9L1146.0 1403.6L1147.6 1403.3L1149.2 1402.9L1150.7 1402.5L1152.3 1402.0L1153.8 1401.5L1155.3 1401.0L1156.8 1400.4L1158.3 1399.8L1159.8 1399.2L1161.2 1398.5L1162.6 1397.8L1164.1 1397.0L1165.5 1396.2L1166.8 1395.4L1168.2 1394.5L1169.5 1393.6L1170.8 1392.6L1172.1 1391.6L1173.3 1390.6L1174.6 1389.6L1175.8 1388.5L1176.9 1387.4L1178.1 1386.3L1179.2 1385.2L1180.3 1384.0L1181.4 1382.8L1182.5 1381.6L1183.6 1380.4L1184.6 1379.2L1185.6 1378.0L1186.6 1376.7L1187.6 1375.4L1188.6 1374.2L1189.6 1372.9L1190.5 1371.6L1191.4 1370.3L1192.3 1369.0L1193.3 1367.6L1194.1 1366.3L1195.0 1365.0L1195.9 1363.6L1196.8 1362.3L1197.6 1360.9L1198.5 1359.6L1199.3 1358.2L1200.2 1356.8L1201.0 1355.5L1201.8 1354.1L1202.6 1352.7L1203.4 1351.3L1204.3 1349.9L1205.1 1348.6L1205.9 1347.2L1206.7 1345.8L1207.5 1344.4L1208.3 1343.0L1209.0 1341.6L1209.8 1340.2L1210.6 1338.8L1211.4 1337.4L1212.2 1336.1L1213.0 1334.7L1213.8 1333.3L1214.6 1331.9L1215.4 1330.5L1216.2 1329.1L1217.0 1327.8L1217.8 1326.4L1218.7 1325.0L1219.5 1323.6L1220.3 1322.3L1221.1 1320.9L1222.0 1319.6L1222.8 1318.2L1223.7 1316.9L1224.6 1315.5L1225.5 1314.2L1226.4 1312.9L1227.3 1311.6L1228.2 1310.3L1229.2 1309.0L1230.2 1307.8L1231.2 1306.5L1232.2 1305.3L1233.2 1304.1L1234.3 1303.0L1235.4 1301.8L1236.6 1300.7L1237.8 1299.7L1239.0 1298.7L1240.3 1297.8L1241.6 1296.9L1243.0 1296.2L1244.4 1295.5L1245.9 1295.0L1247.5 1294.7L1249.1 1294.5L1250.7 1294.4L1252.3 1294.6L1253.8 1294.9L1255.4 1295.4L1256.9 1296.0L1258.3 1296.8L1259.7 1297.6L1261.0 1298.5L1262.3 1299.5L1263.5 1300.6L1264.7 1301.6L1265.9 1302.8L1267.0 1303.9L1268.1 1305.1L1269.2 1306.3L1270.2 1307.6L1271.2 1308.8L1272.2 1310.1L1273.2 1311.4L1274.1 1312.6L1275.1 1313.9L1276.0 1315.3L1276.9 1316.6L1277.8 1317.9L1278.7 1319.2L1279.6 1320.6L1280.5 1321.9L1281.4 1323.2L1282.2 1324.6L1283.1 1325.9L1284.0 1327.3L1284.8 1328.6L1285.7 1330.0L1286.5 1331.4L1287.4 1332.7L1288.2 1334.1L1289.1 1335.4L1289.9 1336.8L1290.8 1338.1L1291.6 1339.5L1292.5 1340.8L1293.3 1342.2L1294.2 1343.5L1295.1 1344.9L1295.9 1346.2L1296.8 1347.6L1297.7 1348.9L1298.6 1350.2L1299.5 1351.5L1300.4 1352.8L1301.3 1354.2L1302.2 1355.5L1303.1 1356.7L1304.1 1358.0L1305.1 1359.3L1306.0 1360.6L1307.0 1361.8L1308.0 1363.1L1309.0 1364.3L1310.1 1365.5L1311.1 1366.7L1312.2 1367.9L1313.3 1369.1L1314.4 1370.2L1315.5 1371.3L1316.6 1372.4L1317.8 1373.5L1319.0 1374.5L1320.3 1375.5L1321.5 1376.5L1322.8 1377.4L1324.1 1378.3L1325.5 1379.2L1326.8 1380.0L1328.2 1380.8L1329.6 1381.5L1331.1 1382.1L1332.6 1382.7L1334.1 1383.3L1335.6 1383.8L1337.1 1384.2L1338.7 1384.6L1340.2 1384.9L1341.8 1385.2L1343.4 1385.4L1345.0 1385.6L1346.6 1385.7L1348.2 1385.8L1349.7 1385.9L1351.3 1386.0L1352.9 1386.0L1354.5 1386.0L1356.1 1386.0L1357.7 1385.9L1359.3 1385.9L1360.9 1385.8L1362.5 1385.7L1364.1 1385.7L1365.7 1385.6L1367.3 1385.5L1368.9 1385.5L1370.5 1385.4L1372.1 1385.3L1373.7 1385.2L1375.3 1385.2L1376.9 1385.1L1378.5 1385.0L1380.1 1384.9L1381.7 1384.9L1383.3 1384.8L1384.9 1384.7L1386.5 1384.6L1388.1 1384.5L1389.7 1384.4L1391.3 1384.3L1392.9 1384.2L1394.5 1384.1L1396.1 1383.9L1397.7 1383.8L1399.3 1383.6L1400.9 1383.4L1402.5 1383.2L1404.0 1383.0L1405.6 1382.8L1407.2 1382.5L1408.8 1382.3L1410.4 1382.0L1411.9 1381.7L1413.5 1381.4L1415.1 1381.0L1416.6 1380.6L1418.2 1380.3L1419.7 1379.9L1421.3 1379.4L1422.8 1379.0L1424.3 1378.5L1425.9 1378.0L1427.4 1377.5L1428.9 1377.0L1430.4 1376.4L1431.9 1375.9L1433.4 1375.3L1434.9 1374.7L1436.4 1374.0L1437.8 1373.4L1439.3 1372.7L1440.7 1372.0L1442.2 1371.3L1443.6 1370.6L1445.0 1369.8L1446.4 1369.1L1447.8 1368.3L1449.2 1367.4L1450.6 1366.6L1451.9 1365.8L1453.3 1364.9L1454.6 1364.0L1455.9 1363.1L1457.2 1362.2L1458.5 1361.2L1459.8 1360.3L1461.1 1359.3L1462.4 1358.3L1463.6 1357.3L1464.8 1356.3L1466.1 1355.3L1467.3 1354.2L1468.5 1353.2L1469.7 1352.1L1470.9 1351.0L1472.1 1349.9L1473.2 1348.8L1474.4 1347.7L1475.5 1346.6L1476.7 1345.5L1477.8 1344.3L1479.0 1343.2L1480.1 1342.1L1481.2 1340.9L1482.3 1339.8L1483.4 1338.6L1484.5 1337.4L1485.6 1336.3L1486.7 1335.1L1487.8 1333.9L1488.9 1332.7L1489.9 1331.5L1491.0 1330.4L1492.1 1329.2L1493.2 1328.0L1494.2 1326.8L1495.3 1325.6L1496.4 1324.5L1497.5 1323.3L1498.6 1322.1L1499.7 1320.9L1500.7 1319.8L1501.8 1318.6L1502.9 1317.4L1504.1 1316.3L1505.2 1315.2L1506.3 1314.0L1507.4 1312.9L1508.6 1311.8L1509.7 1310.7L1510.9 1309.6L1512.1 1308.6L1513.3 1307.5L1514.5 1306.5L1515.8 1305.5L1517.1 1304.6L1518.3 1303.6L1519.7 1302.7L1521.0 1301.9L1522.4 1301.1L1523.8 1300.4L1525.3 1299.7L1526.7 1299.2L1528.2 1298.7L1529.8 1298.3L1531.3 1298.0L1532.9 1297.8L1534.5 1297.8L1536.1 1297.9L1537.7 1298.2L1539.3 1298.5L1540.8 1299.0L1542.3 1299.6L1543.8 1300.3L1545.2 1301.1L1546.5 1302.0L1547.9 1303.0L1549.1 1303.9L1550.4 1305.0L1551.6 1306.1L1552.7 1307.2L1553.8 1308.3L1554.9 1309.5L1556.0 1310.7L1557.1 1311.9L1558.1 1313.2L1559.1 1314.4L1560.1 1315.7L1561.0 1317.0L1562.0 1318.3L1562.9 1319.6L1563.9 1320.9L1564.8 1322.2L1565.7 1323.6L1566.6 1324.9L1567.5 1326.2L1568.3 1327.6L1569.2 1328.9L1570.1 1330.3L1570.9 1331.6L1571.8 1333.0L1572.6 1334.3L1573.5 1335.7L1574.3 1337.0L1575.2 1338.4L1576.0 1339.8L1576.9 1341.1L1577.7 1342.5L1578.5 1343.8L1579.4 1345.2L1580.2 1346.5L1581.1 1347.9L1581.9 1349.3L1582.8 1350.6L1583.6 1352.0L1584.5 1353.3L1585.4 1354.6L1586.2 1356.0L1587.1 1357.3L1588.0 1358.7L1588.9 1360.0L1589.8 1361.3L1590.7 1362.6L1591.6 1363.9L1592.5 1365.3L1593.4 1366.6L1594.3 1367.9L1595.3 1369.1L1596.2 1370.4L1597.2 1371.7L1598.2 1373.0L1599.1 1374.2L1600.1 1375.5L1601.1 1376.7L1602.2 1378.0L1603.2 1379.2L1604.2 1380.4L1605.3 1381.6L1606.4 1382.7L1607.4 1383.9L1608.6 1385.1L1609.7 1386.2L1610.8 1387.3L1612.0 1388.4L1613.2 1389.4L1614.4 1390.5L1615.6 1391.5L1616.8 1392.5L1618.1 1393.5L1619.4 1394.4L1620.7 1395.3L1622.1 1396.1L1623.4 1396.9L1624.8 1397.7L1626.2 1398.5L1627.7 1399.2L1629.1 1399.8L1630.6 1400.4L1632.1 1401.0L1633.6 1401.5L1635.1 1402.0L1636.6 1402.5L1638.2 1402.9L1639.7 1403.3L1641.3 1403.6L1642.8 1403.9L1644.4 1404.2L1646.0 1404.5L1647.6 1404.7L1649.2 1404.9L1650.7 1405.1L1652.3 1405.3L1653.9 1405.4L1655.5 1405.5L1657.1 1405.7L1658.7 1405.8L1660.3 1405.9L1661.9 1405.9L1663.5 1406.0L1665.1 1406.1L1666.7 1406.1L1668.3 1406.2L1669.9 1406.2L1671.5 1406.3L1673.1 1406.3L1674.7 1406.4L1676.3 1406.4L1677.9 1406.4L1679.5 1406.4L1681.1 1406.4L1682.7 1406.5L1684.3 1406.5L1685.9 1406.5L1687.5 1406.5L1689.1 1406.5L1690.7 1406.5L1692.3 1406.5L1693.9 1406.5L1695.5 1406.5L1697.1 1406.6L1698.7 1406.6L1700.3 1406.6L1701.9 1406.6L1703.5 1406.6L1705.1 1406.6L1706.7 1406.6L1708.3 1406.6L1709.9 1406.6L1711.5 1406.6L1713.1 1406.6L1714.7 1406.6L1716.3 1406.6L1717.9 1406.6L1719.5 1406.6L1721.1 1406.6L1722.7 1406.6L1724.3 1406.6L1725.9 1406.6L1727.5 1406.6L1729.1 1406.6L1730.7 1406.6L1732.3 1406.6L1733.9 1406.6L1735.5 1406.6L1736.3 1406.6" fill="none" stroke="#ff7f0e" stroke-width="1.8" stroke-linejoin="round" stroke-linecap="round"/>
<path d="M1087.0 1406.6L1088.6 1406.6L1090.2 1406.6L1091.8 1406.6L1093.4 1406.6L1095.0 1406.6L1096.6 1406.6L1098.2 1406.6L1099.8 1406.6L1101.4 1406.6L1103.0 1406.6L1104.6 1406.6L1106.2 1406.6L1107.8 1406.6L1109.4 1406.6L1111.0 1406.6L1112.6 1406.6L1114.2 1406.6L1115.8 1406.6L1117.4 1406.6L1119.0 1406.6L1120.6 1406.6L1122.2 1406.6L1123.8 1406.6L1125.4 1406.6L1127.0 1406.6L1128.6 1406.6L1130.2 1406.6L1131.8 1406.6L1133.4 1406.6L1135.0 1406.6L1136.6 1406.6L1138.2 1406.6L1139.8 1406.6L1141.4 1406.6L1143.0 1406.6L1144.6 1406.6L1146.2 1406.6L1147.8 1406.6L1149.4 1406.6L1151.0 1406.6L1152.6 1406.6L1154.2 1406.6L1155.8 1406.6L1157.4 1406.6L1159.0 1406.6L1160.6 1406.6L1162.2 1406.6L1163.8 1406.6L1165.4 1406.6L1167.0 1406.6L1168.6 1406.6L1170.2 1406.6L1171.8 1406.6L1173.4 1406.6L1175.0 1406.6L1176.6 1406.6L1178.2 1406.6L1179.8 1406.6L1181.4 1406.6L1183.0 1406.6L1184.6 1406.6L1186.2 1406.6L1187.8 1406.6L1189.4 1406.6L1191.0 1406.6L1192.6 1406.5L1194.2 1406.5L1195.8 1406.5L1197.4 1406.5L1199.0 1406.5L1200.6 1406.5L1202.2 1406.5L1203.8 1406.4L1205.4 1406.4L1207.0 1406.3L1208.6 1406.3L1210.2 1406.2L1211.8 1406.1L1213.4 1406.0L1215.0 1405.8L1216.6 1405.5L1218.1 1405.0L1219.6 1404.3L1220.9 1403.2L1222.0 1401.9L1222.9 1400.5L1223.6 1399.0L1224.2 1397.5L1224.7 1396.0L1225.1 1394.5L1225.5 1392.9L1225.8 1391.4L1226.1 1389.9L1226.4 1388.3L1226.7 1386.8L1226.9 1385.3L1227.2 1383.8L1227.4 1382.2L1227.6 1380.7L1227.8 1379.2L1228.0 1377.6L1228.2 1375.9L1228.4 1374.1L1228.6 1372.2L1228.8 1370.3L1229.0 1368.2L1229.2 1366.1L1229.4 1363.9L1229.6 1361.5L1229.8 1359.1L1230.0 1356.6L1230.2 1354.0L1230.4 1351.3L1230.6 1348.4L1230.8 1345.5L1231.0 1342.4L1231.2 1339.3L1231.4 1336.0L1231.6 1332.6L1231.8 1329.1L1232.0 1325.5L1232.2 1321.8L1232.4 1318.0L1232.6 1314.1L1232.8 1310.0L1233.0 1305.9L1233.2 1301.6L1233.4 1297.2L1233.6 1292.7L1233.8 1288.1L1234.0 1283.4L1234.2 1278.6L1234.4 1273.7L1234.6 1268.7L1234.8 1263.6L1235.0 1258.4L1235.2 1253.1L1235.4 1247.8L1235.6 1242.3L1235.8 1236.8L1236.0 1231.2L1236.2 1225.5L1236.4 1219.8L1236.6 1214.0L1236.8 1208.1L1237.0 1202.2L1237.2 1196.3L1237.4 1190.3L1237.6 1184.3L1237.8 1178.2L1238.0 1172.1L1238.2 1166.0L1238.4 1159.9L1238.6 1153.7L1238.8 1147.6L1239.0 1141.5L1239.2 1135.4L1239.4 1129.3L1239.6 1123.2L1239.8 1117.1L1240.0 1111.1L1240.2 1105.1L1240.4 1099.2L1240.6 1093.3L1240.8 1087.4L1241.0 1081.6L1241.2 1075.9L1241.4 1070.3L1241.6 1064.7L1241.8 1059.2L1242.0 1053.9L1242.2 1048.6L1242.4 1043.4L1242.6 1038.2L1242.8 1033.3L1243.0 1028.4L1243.2 1023.6L1243.4 1018.9L1243.6 1014.4L1243.8 1010.0L1244.0 1005.7L1244.2 1001.6L1244.4 997.6L1244.6 993.7L1244.8 989.9L1245.0 986.3L1245.2 982.9L1245.4 979.6L1245.6 976.4L1245.8 973.4L1246.0 970.5L1246.2 967.8L1246.4 965.2L1246.6 962.8L1246.8 960.5L1247.0 958.4L1247.2 956.4L1247.4 954.6L1247.6 952.9L1247.8 951.2L1248.1 949.5L1248.4 947.8L1248.7 946.1L1249.3 944.6L1250.3 944.4L1250.9 946.0L1251.2 947.5L1251.5 948.9L1251.7 950.4L1251.9 951.9L1252.1 953.5L1252.3 955.2L1252.5 957.1L1252.7 959.1L1252.9 961.3L1253.1 963.6L1253.3 966.1L1253.5 968.8L1253.7 971.6L1253.9 974.6L1254.1 977.7L1254.3 981.1L1254.5 984.5L1254.7 988.2L1254.9 992.0L1255.1 996.0L1255.3 1000.1L1255.5 1004.4L1255.7 1008.9L1255.9 1013.6L1256.1 1018.4L1256.3 1023.3L1256.5 1028.5L1256.7 1033.7L1256.9 1039.2L1257.1 1044.8L1257.3 1050.5L1257.5 1056.4L1257.7 1062.3L1257.9 1068.5L1258.1 1074.7L1258.3 1081.1L1258.5 1087.5L1258.7 1094.1L1258.9 1100.7L1259.1 1107.4L1259.3 1114.2L1259.5 1121.0L1259.7 1127.9L1259.9 1134.9L1260.1 1141.8L1260.3 1148.8L1260.5 1155.8L1260.7 1162.7L1260.9 1169.7L1261.1 1176.7L1261.3 1183.6L1261.5 1190.4L1261.7 1197.2L1261.9 1204.0L1262.1 1210.7L1262.3 1217.2L1262.5 1223.7L1262.7 1230.1L1262.9 1236.4L1263.1 1242.6L1263.3 1248.7L1263.5 1254.6L1263.7 1260.4L1263.9 1266.1L1264.1 1271.6L1264.3 1277.0L1264.5 1282.2L1264.7 1287.3L1264.9 1292.2L1265.1 1296.9L1265.3 1301.5L1265.5 1306.0L1265.7 1310.3L1265.9 1314.4L1266.1 1318.3L1266.3 1322.2L1266.5 1325.8L1266.7 1329.3L1266.9 1332.7L1267.1 1335.9L1267.3 1338.9L1267.5 1341.8L1267.7 1344.6L1267.9 1347.2L1268.1 1349.7L1268.3 1352.1L1268.5 1354.4L1268.7 1356.5L1268.9 1358.5L1269.1 1360.5L1269.3 1362.3L1269.5 1364.0L1269.7 1365.6L1269.9 1367.3L1270.2 1368.9L1270.4 1370.6L1270.7 1372.2L1271.0 1373.8L1271.3 1375.4L1271.7 1377.0L1272.0 1378.6L1272.5 1380.2L1273.0 1381.7L1273.5 1383.2L1274.2 1384.6L1274.9 1386.0L1275.8 1387.3L1276.8 1388.5L1277.9 1389.6L1279.1 1390.5L1280.4 1391.4L1281.8 1392.1L1283.3 1392.7L1284.8 1393.2L1286.3 1393.3L1287.9 1393.4L1289.5 1393.6L1291.1 1393.9L1292.7 1394.1L1294.3 1394.2L1295.9 1394.3L1297.5 1394.2L1299.1 1394.0L1300.7 1393.8L1302.3 1393.5L1303.9 1393.2L1305.5 1392.9L1307.0 1392.7L1308.6 1392.4L1310.2 1392.2L1311.8 1392.1L1313.4 1391.9L1315.0 1391.8L1316.6 1391.7L1318.2 1391.6L1319.8 1391.6L1321.4 1391.5L1323.0 1391.4L1324.6 1391.4L1326.2 1391.3L1327.8 1391.2L1329.4 1391.1L1331.0 1391.0L1332.6 1390.9L1334.2 1390.8L1335.8 1390.7L1337.4 1390.6L1339.0 1390.4L1340.6 1390.3L1342.1 1390.1L1343.7 1390.0L1345.3 1389.8L1346.9 1389.6L1348.5 1389.4L1350.1 1389.2L1351.7 1389.0L1353.3 1388.7L1354.8 1388.5L1356.4 1388.2L1358.0 1388.0L1359.6 1387.7L1361.2 1387.4L1362.8 1387.1L1364.3 1386.9L1365.9 1386.6L1367.5 1386.3L1369.1 1386.1L1370.7 1385.8L1372.2 1385.6L1373.8 1385.4L1375.4 1385.3L1377.0 1385.1L1378.6 1385.0L1380.1 1384.9L1381.7 1384.7L1383.3 1384.5L1384.9 1384.2L1386.5 1383.8L1388.0 1383.4L1389.6 1383.0L1391.2 1382.6L1392.8 1382.2L1394.4 1381.8L1395.9 1381.5L1397.5 1381.3L1399.1 1381.2L1400.7 1381.1L1402.2 1381.0L1403.8 1380.9L1405.4 1380.7L1407.0 1380.4L1408.5 1380.0L1410.1 1379.6L1411.7 1379.1L1413.3 1378.7L1414.8 1378.2L1416.4 1377.8L1418.0 1377.5L1419.5 1377.4L1421.1 1377.3L1422.7 1377.2L1424.2 1377.0L1425.8 1376.7L1427.4 1376.3L1428.9 1375.9L1430.5 1375.4L1432.1 1375.0L1433.6 1374.5L1435.2 1374.0L1436.8 1373.6L1438.3 1373.2L1439.9 1372.9L1441.4 1372.7L1443.0 1372.5L1444.5 1372.3L1446.1 1372.0L1447.6 1371.7L1449.2 1371.3L1450.7 1370.6L1452.2 1369.9L1453.7 1368.9L1455.2 1367.9L1456.7 1366.9L1458.1 1365.9L1459.6 1365.1L1461.0 1364.5L1462.4 1364.1L1463.8 1363.6L1465.2 1363.2L1466.6 1362.8L1467.9 1362.3L1469.2 1361.7L1470.6 1360.9L1471.9 1360.0L1473.2 1358.8L1474.5 1357.6L1475.8 1356.3L1477.1 1355.0L1478.4 1353.7L1479.7 1352.6L1481.0 1351.7L1482.3 1350.8L1483.7 1350.1L1485.0 1349.4L1486.4 1348.8L1487.7 1348.2L1489.1 1347.4L1490.3 1346.6L1491.6 1345.5L1492.7 1344.3L1493.8 1343.1L1494.8 1341.7L1495.8 1340.3L1496.7 1338.9L1497.6 1337.5L1498.4 1336.1L1499.3 1334.8L1500.1 1333.5L1501.0 1332.2L1501.8 1330.8L1502.7 1329.5L1503.7 1328.3L1504.6 1327.0L1505.6 1325.8L1506.7 1324.6L1507.7 1323.3L1508.7 1322.0L1509.6 1320.6L1510.4 1319.2L1511.1 1317.7L1511.7 1316.2L1512.3 1314.7L1512.8 1313.2L1513.3 1311.7L1513.7 1310.2L1514.1 1308.6L1514.5 1307.1L1514.9 1305.5L1515.2 1304.0L1515.6 1302.5L1515.9 1300.9L1516.2 1299.3L1516.5 1297.8L1516.8 1296.2L1517.1 1294.7L1517.4 1293.1L1517.6 1291.6L1517.9 1290.0L1518.2 1288.4L1518.4 1286.9L1518.7 1285.3L1519.0 1283.7L1519.2 1282.1L1519.5 1280.6L1519.7 1279.0L1520.0 1277.4L1520.2 1275.8L1520.5 1274.3L1520.7 1272.7L1521.0 1271.1L1521.2 1269.5L1521.4 1267.9L1521.7 1266.4L1521.9 1264.8L1522.2 1263.2L1522.4 1261.6L1522.7 1260.0L1522.9 1258.4L1523.2 1256.8L1523.4 1255.3L1523.7 1253.7L1524.0 1252.1L1524.2 1250.5L1524.5 1248.9L1524.7 1247.3L1525.0 1245.7L1525.3 1244.2L1525.6 1242.6L1525.8 1241.0L1526.1 1239.4L1526.4 1237.8L1526.7 1236.3L1527.0 1234.7L1527.3 1233.1L1527.6 1231.5L1527.9 1229.9L1528.2 1228.4L1528.5 1226.8L1528.8 1225.2L1529.1 1223.6L1529.4 1222.1L1529.7 1220.5L1530.0 1218.9L1530.3 1217.4L1530.6 1215.8L1530.9 1214.2L1531.2 1212.6L1531.6 1211.1L1531.9 1209.5L1532.2 1207.9L1532.5 1206.4L1532.8 1204.8L1533.1 1203.2L1533.4 1201.7L1533.7 1200.1L1534.1 1198.5L1534.4 1196.9L1534.7 1195.4L1535.0 1193.8L1535.3 1192.2L1535.7 1190.7L1536.0 1189.1L1536.4 1187.5L1536.7 1185.9L1537.1 1184.4L1537.5 1182.8L1537.9 1181.3L1538.3 1179.7L1538.8 1178.2L1539.4 1176.7L1540.1 1175.3L1541.1 1174.4L1542.7 1175.7L1543.3 1177.3L1543.7 1178.8L1544.1 1180.3L1544.4 1181.8L1544.7 1183.3L1544.9 1184.9L1545.2 1186.4L1545.4 1187.9L1545.6 1189.4L1545.8 1191.0L1546.0 1192.5L1546.2 1194.2L1546.4 1195.9L1546.6 1197.6L1546.8 1199.5L1547.0 1201.4L1547.2 1203.4L1547.4 1205.4L1547.6 1207.5L1547.8 1209.6L1548.0 1211.8L1548.2 1214.1L1548.4 1216.4L1548.6 1218.8L1548.8 1221.2L1549.0 1223.7L1549.2 1226.2L1549.4 1228.8L1549.6 1231.4L1549.8 1234.0L1550.0 1236.7L1550.2 1239.4L1550.4 1242.2L1550.6 1245.0L1550.8 1247.8L1551.0 1250.6L1551.2 1253.4L1551.4 1256.3L1551.6 1259.2L1551.8 1262.1L1552.0 1265.0L1552.2 1267.9L1552.4 1270.8L1552.6 1273.7L1552.8 1276.7L1553.0 1279.6L1553.2 1282.5L1553.4 1285.4L1553.6 1288.3L1553.8 1291.2L1554.0 1294.1L1554.2 1296.9L1554.4 1299.7L1554.6 1302.5L1554.8 1305.3L1555.0 1308.1L1555.2 1310.8L1555.4 1313.5L1555.6 1316.2L1555.8 1318.8L1556.0 1321.4L1556.2 1324.0L1556.4 1326.5L1556.6 1329.0L1556.8 1331.5L1557.0 1333.9L1557.2 1336.3L1557.4 1338.6L1557.6 1340.9L1557.8 1343.1L1558.0 1345.3L1558.2 1347.5L1558.4 1349.6L1558.6 1351.6L1558.8 1353.6L1559.0 1355.6L1559.2 1357.5L1559.4 1359.3L1559.6 1361.2L1559.8 1362.9L1560.0 1364.6L1560.2 1366.3L1560.4 1367.9L1560.6 1369.6L1560.8 1371.2L1561.1 1372.8L1561.3 1374.4L1561.5 1376.0L1561.8 1377.6L1562.0 1379.3L1562.3 1380.9L1562.6 1382.5L1562.9 1384.1L1563.2 1385.7L1563.5 1387.3L1563.9 1388.9L1564.2 1390.4L1564.6 1392.0L1565.1 1393.5L1565.5 1395.1L1566.1 1396.6L1566.7 1398.1L1567.3 1399.5L1568.1 1400.8L1569.0 1402.1L1570.0 1403.3L1571.2 1404.2L1572.5 1405.0L1574.0 1405.5L1575.6 1405.9L1577.1 1406.1L1578.7 1406.2L1580.3 1406.3L1581.9 1406.3L1583.5 1406.4L1585.1 1406.4L1586.7 1406.4L1588.3 1406.5L1589.9 1406.5L1591.5 1406.5L1593.1 1406.5L1594.7 1406.5L1596.3 1406.5L1597.9 1406.5L1599.5 1406.6L1601.1 1406.6L1602.7 1406.6L1604.3 1406.6L1605.9 1406.6L1607.5 1406.6L1609.1 1406.6L1610.7 1406.6L1612.3 1406.6L1613.9 1406.6L1615.5 1406.6L1617.1 1406.6L1618.7 1406.6L1620.3 1406.6L1621.9 1406.6L1623.5 1406.6L1625.1 1406.6L1626.7 1406.6L1628.3 1406.6L1629.9 1406.6L1631.5 1406.6L1633.1 1406.6L1634.7 1406.6L1636.3 1406.6L1637.9 1406.6L1639.5 1406.6L1641.1 1406.6L1642.7 1406.6L1644.3 1406.6L1645.9 1406.6L1647.5 1406.6L1649.1 1406.6L1650.7 1406.6L1652.3 1406.6L1653.9 1406.6L1655.5 1406.6L1657.1 1406.6L1658.7 1406.6L1660.3 1406.6L1661.9 1406.6L1663.5 1406.6L1665.1 1406.6L1666.7 1406.6L1668.3 1406.6L1669.9 1406.6L1671.5 1406.6L1673.1 1406.6L1674.7 1406.6L1676.3 1406.6L1677.9 1406.6L1679.5 1406.6L1681.1 1406.6L1682.7 1406.6L1684.3 1406.6L1685.9 1406.6L1687.5 1406.6L1689.1 1406.6L1690.7 1406.6L1692.3 1406.6L1693.9 1406.6L1695.5 1406.6L1697.1 1406.6L1698.7 1406.6L1700.3 1406.6L1701.9 1406.6L1703.5 1406.6L1705.1 1406.6L1706.7 1406.6L1708.3 1406.6L1709.9 1406.6L1711.5 1406.6L1713.1 1406.6L1714.7 1406.6L1716.3 1406.6L1717.9 1406.6L1719.5 1406.6L1721.1 1406.6L1722.7 1406.6L1724.3 1406.6L1725.9 1406.6L1727.5 1406.6L1729.1 1406.6L1730.7 1406.6L1732.3 1406.6L1733.9 1406.6L1735.5 1406.6L1736.3 1406.6" fill="none" stroke="#2ca02c" stroke-width="1.8" stroke-linejoin="round" stroke-linecap="round"/>
<line x1="1038.2" y1="1407" x2="1056.3" y2="1407" stroke="#262626" stroke-width="4.1" />
<text x="1030.1" y="1417.3" font-size="23.5" text-anchor="end" >0</text>
<line x1="1038.2" y1="1330.45" x2="1056.3" y2="1330.45" stroke="#262626" stroke-width="4.1" />
<text x="1030.1" y="1340.75" font-size="23.5" text-anchor="end" >1</text>
<line x1="1038.2" y1="1253.9" x2="1056.3" y2="1253.9" stroke="#262626" stroke-width="4.1" />
<text x="1030.1" y="1264.2" font-size="23.5" text-anchor="end" >2</text>
<line x1="1038.2" y1="1177.35" x2="1056.3" y2="1177.35" stroke="#262626" stroke-width="4.1" />
<text x="1030.1" y="1187.65" font-size="23.5" text-anchor="end" >3</text>
<line x1="1038.2" y1="1100.8" x2="1056.3" y2="1100.8" stroke="#262626" stroke-width="4.1" />
<text x="1030.1" y="1111.1" font-size="23.5" text-anchor="end" >4</text>
<line x1="1038.2" y1="1024.25" x2="1056.3" y2="1024.25" stroke="#262626" stroke-width="4.1" />
<text x="1030.1" y="1034.55" font-size="23.5" text-anchor="end" >5</text>
<line x1="1038.2" y1="947.7" x2="1056.3" y2="947.7" stroke="#262626" stroke-width="4.1" />
<text x="1030.1" y="958" font-size="23.5" text-anchor="end" >6</text>
<line x1="1183.4" y1="1430.2" x2="1183.4" y2="1449.4" stroke="#262626" stroke-width="4.1" />
<text x="1182.9" y="1473.1" font-size="22.7" text-anchor="middle" >−<tspan dx="-3.0">0.20</tspan></text>
<line x1="1249.6" y1="1430.2" x2="1249.6" y2="1449.4" stroke="#262626" stroke-width="4.1" />
<text x="1249.6" y="1473.1" font-size="22.7" text-anchor="middle" >0.00</text>
<line x1="1317.4" y1="1430.2" x2="1317.4" y2="1449.4" stroke="#262626" stroke-width="4.1" />
<text x="1317.4" y="1473.1" font-size="22.7" text-anchor="middle" >0.20</text>
<line x1="1385.4" y1="1430.2" x2="1385.4" y2="1449.4" stroke="#262626" stroke-width="4.1" />
<text x="1385.4" y="1473.1" font-size="22.7" text-anchor="middle" >0.40</text>
<line x1="1452.5" y1="1430.2" x2="1452.5" y2="1449.4" stroke="#262626" stroke-width="4.1" />
<text x="1452.5" y="1473.1" font-size="22.7" text-anchor="middle" >0.60</text>
<line x1="1537.7" y1="1430.2" x2="1537.7" y2="1449.4" stroke="#262626" stroke-width="4.1" />
<text x="1537.7" y="1473.1" font-size="22.7" text-anchor="middle" >0.85</text>
<line x1="1588.1" y1="1430.2" x2="1588.1" y2="1449.4" stroke="#262626" stroke-width="4.1" />
<text x="1588.55" y="1473.1" font-size="22.7" text-anchor="middle" >1<tspan dx="-2">.00</tspan></text>
<line x1="1656.3" y1="1430.2" x2="1656.3" y2="1449.4" stroke="#262626" stroke-width="4.1" />
<text x="1654.8" y="1473.1" font-size="22.7" text-anchor="middle" >1<tspan dx="-2">.20</tspan></text>
<text x="1250.1" y="1473.1" font-size="22.7" text-anchor="middle" >0.00</text>
<text x="1538.2" y="1473.1" font-size="22.7" text-anchor="middle" >0.85</text>
<text x="1412.1" y="1503.2" font-size="24.66" text-anchor="middle" >Predicted Helical Amino Acids Fraction value</text>
<text x="1003.7" y="1179.7" font-size="24.5" text-anchor="middle" transform="rotate(-90 1003.7 1179.7)" >Density</text>
<text x="1005.8" y="901.3" font-size="30.82" >Alpha-helix fraction kernel distribution estimation</text>
<text transform="translate(1048.6 852.3) scale(1.05 1)" font-size="43.5" font-family="'Liberation Serif','DejaVu Serif',serif" stroke="#262626" stroke-width="0.2">c</text>
<line x1="1342.4" y1="952.6" x2="1388.1" y2="952.6" stroke="#1f77b4" stroke-width="1.8" />
<text x="1404.3" y="960.3" font-size="22.66" >Known general AMPs</text>
<line x1="1342.4" y1="985.7" x2="1388.1" y2="985.7" stroke="#ff7f0e" stroke-width="1.8" />
<text x="1404.3" y="992.9" font-size="22.66" >Known anti-C. acnes AMPs</text>
<line x1="1342.4" y1="1019.5" x2="1388.1" y2="1019.5" stroke="#2ca02c" stroke-width="1.8" />
<text x="1404.3" y="1026.7" font-size="22.66" >Generated anti-C. acnes AMPs</text>
<line x1="1249.8" y1="1430.2" x2="1249.8" y2="921.9" stroke="#ffa500" stroke-width="2" stroke-opacity="0.44" stroke-dasharray="7.8 3.08"/>
<line x1="1538" y1="1430.2" x2="1538" y2="921.9" stroke="#ffa500" stroke-width="2" stroke-opacity="0.44" stroke-dasharray="7.8 3.08"/>
<line x1="1056.3" y1="920.1" x2="1056.3" y2="1432.25" stroke="#262626" stroke-width="4.1" />
<line x1="1054.25" y1="1430.2" x2="1772" y2="1430.2" stroke="#262626" stroke-width="4.1" />
</g>
</svg>
</body>
</html>
